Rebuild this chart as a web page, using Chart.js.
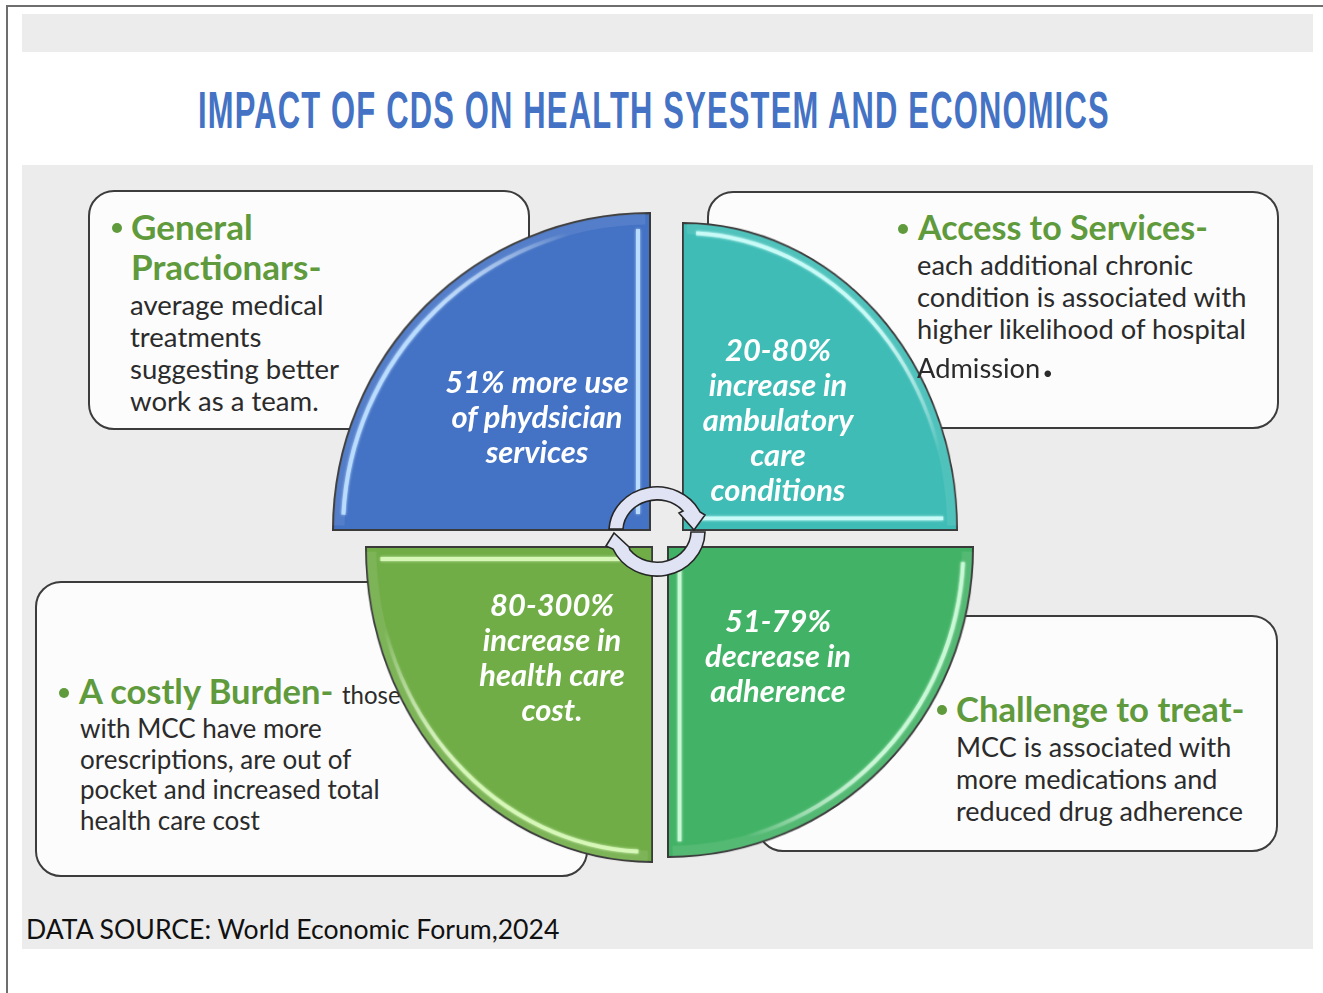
<!DOCTYPE html>
<html>
<head>
<meta charset="utf-8">
<title>Impact of CDS on health system and economics</title>
<script src="https://cdn.jsdelivr.net/npm/chart.js@4"></script>
<style>
  html, body { margin: 0; background: #fff; }
  #page { position: relative; width: 1323px; height: 993px; overflow: hidden; font-family: Lato, sans-serif; }
  #page div, #page canvas, #page svg { position: absolute; }
  .frame-top { left: 6px; top: 5px; width: 1317px; height: 2px; background: #6e6e6e; }
  .frame-left { left: 6px; top: 5px; width: 2px; height: 988px; background: #6e6e6e; }
  .band { left: 22px; width: 1291px; background: #ececec; }
  .box { background: #fcfcfc; border: 2px solid #3c3c3c; border-radius: 26px; box-sizing: border-box; }
  .line { white-space: nowrap; line-height: 1; }
  .head { font-weight: 700; color: #5f9a3c; }
  .body { color: #2b2b2b; }
  .inner { font-weight: 700; font-style: italic; color: #fff; }
</style>
</head>
<body>
<div id="page">
  <div class="frame-top"></div>
  <div class="frame-left"></div>
  <div class="band" style="top:14px;height:38px"></div>
  <div class="band" style="top:165px;height:784px"></div>
  <div class="box" style="left:88px;top:190px;width:442px;height:240px"></div>
  <div class="box" style="left:707px;top:191px;width:572px;height:238px"></div>
  <div class="box" style="left:35px;top:581px;width:553px;height:296px"></div>
  <div class="box" style="left:757px;top:615px;width:521px;height:237px"></div>
  <div id="under"></div>
  <div id="slices"></div>
  <div id="over"></div>
  <svg width="1323" height="993" style="left:0;top:0">
    <!-- circular arrows in the middle of the four slices -->
    <g fill="#dfe3f3" stroke="#262626" stroke-width="1.6" stroke-linejoin="miter">
      <path d="M609 529 A48 45 0 0 1 700 512 L705 515 L694 530 L679 513 L683 511 A34 31 0 0 0 623 529 Z"/>
      <path d="M705 532 A48 45 0 0 1 613 549 L606 546 L614 533 L629 547 L630 550 A34 31 0 0 0 691 532 Z"/>
    </g>
  </svg>
</div>
<script>
// Slices, clockwise from the top left
const sliceNames = ['Physician services', 'Ambulatory care', 'Adherence', 'Health care cost'];
const sliceShares = [25, 25, 25, 25];
const sliceRotations = [270, 0, 90, 180];
const sliceColors = ['#4472c4', '#3fbcb6', '#42b366', '#70ad47'];
const sliceGlow = ['#b9dcff', '#c8fbf7', '#c9f8d6', '#d6f7b8'];

const titleText = 'IMPACT OF CDS ON HEALTH SYESTEM AND ECONOMICS';
const sourceText = 'DATA SOURCE: World Economic Forum,2024';

const physicianLabel = ['51% more use', 'of phydsician', 'services'];
const ambulatoryLabel = ['20-80%', 'increase in', 'ambulatory', 'care', 'conditions'];
const adherenceLabel = ['51-79%', 'decrease in', 'adherence'];
const costLabel = ['80-300%', 'increase in', 'health care', 'cost.'];

const practitionerHead = ['General', 'Practionars-'];
const practitionerBody = ['average medical', 'treatments', 'suggesting better', 'work as a team.'];
const accessHead = ['Access to Services-'];
const accessBody = ['each additional chronic', 'condition is associated with', 'higher likelihood of hospital'];
const burdenHead = ['A costly Burden-'];
const burdenBody = ['with MCC have more', 'orescriptions, are out of', 'pocket and increased total', 'health care cost'];
const challengeHead = ['Challenge to treat-'];
const challengeBody = ['MCC is associated with', 'more medications and', 'reduced drug adherence'];

const BASE_SIZE = 318;

// left, top, width, height of each slice on the page
const sliceBoxes = [
  [332, 212, 319, 319],
  [682, 222, 276, 309],
  [667, 546, 307, 312],
  [365, 546, 288, 317],
];

// Light inner edge on the curve and on one straight side
const bevelPlugin = {
  id: 'bevel',
  afterDatasetsDraw(chart, args, opts) {
    const arc = chart.getDatasetMeta(0).data[0];
    const { x, y, outerRadius: r, startAngle: a0, endAngle: a1 } = arc.getProps(['x', 'y', 'outerRadius', 'startAngle', 'endAngle'], true);
    const ctx = chart.ctx;
    ctx.save();

    // soft rim just inside the outline
    ctx.strokeStyle = 'rgba(255,255,255,0.09)';
    ctx.lineWidth = 11;
    ctx.beginPath();
    ctx.arc(x, y, r - 6, a0 + 0.015, a1 - 0.015);
    ctx.stroke();

    // curve highlight, strongest at the start of the arc
    const rh = r - 10;
    const grad = ctx.createLinearGradient(
      x + rh * Math.cos(a0), y + rh * Math.sin(a0),
      x + rh * Math.cos(a1), y + rh * Math.sin(a1)
    );
    grad.addColorStop(0, opts.color);
    grad.addColorStop(0.45, opts.color);
    grad.addColorStop(0.85, 'rgba(255,255,255,0)');
    ctx.shadowColor = opts.color;
    ctx.shadowBlur = 3;
    ctx.strokeStyle = grad;
    ctx.lineWidth = 4;
    ctx.beginPath();
    ctx.arc(x, y, rh, a0 + 0.05, a1 - 0.03);
    ctx.stroke();

    // straight highlight, just inside the side at the arc's end angle
    const inset = 12;
    const nx = Math.cos(a1 - Math.PI / 2) * inset;
    const ny = Math.sin(a1 - Math.PI / 2) * inset;
    ctx.strokeStyle = opts.color;
    ctx.lineWidth = 4;
    ctx.beginPath();
    ctx.moveTo(x + nx + 16 * Math.cos(a1), y + ny + 16 * Math.sin(a1));
    ctx.lineTo(x + nx + (r - 16) * Math.cos(a1), y + ny + (r - 16) * Math.sin(a1));
    ctx.stroke();
    ctx.restore();
  }
};

// One pie per slice, each stretched to its own box
function createSlice(index) {
  const [left, top, width, height] = sliceBoxes[index];
  const holder = document.createElement('div');
  holder.style.cssText = `left:${left}px;top:${top}px;width:${BASE_SIZE}px;height:${BASE_SIZE}px;` +
    `transform-origin:0 0;transform:scale(${width / BASE_SIZE},${height / BASE_SIZE})`;
  const ctx = document.createElement('canvas');
  ctx.width = BASE_SIZE;
  ctx.height = BASE_SIZE;
  holder.appendChild(ctx);
  document.getElementById('slices').appendChild(holder);

  new Chart(ctx, {
    type: 'pie',
    data: {
      labels: [sliceNames[index]],
      datasets: [{
        data: [sliceShares[index]],
        backgroundColor: sliceColors[index],
        borderColor: '#3a3a3a',
        borderWidth: 2,
        borderJoinStyle: 'miter',
      }]
    },
    options: {
      responsive: false,
      animation: false,
      events: [],
      rotation: sliceRotations[index],
      circumference: sliceShares[index] * 3.6,
      plugins: {
        legend: { display: false },
        tooltip: { enabled: false },
        bevel: { color: sliceGlow[index] }
      }
    },
    plugins: [bevelPlugin]
  });
}

// Put one line of text on the page, centred vertically on y
function addLine(layer, text, cls, x, y, size, stretch, centre) {
  const el = document.createElement('div');
  el.className = 'line ' + cls;
  el.textContent = text;
  el.style.left = x + 'px';
  el.style.top = y + 'px';
  el.style.fontSize = size + 'px';
  el.style.transformOrigin = centre ? '50% 50%' : '0 50%';
  el.style.transform = `translate(${centre ? '-50%' : '0'},-50%) scaleX(${stretch})`;
  document.getElementById(layer).appendChild(el);
  return el;
}

function addBlock(layer, lines, cls, x, y, step, size, stretch, centre) {
  lines.forEach((text, i) => addLine(layer, text, cls, x, y + i * step, size, stretch, centre));
}

function addBullet(x, y) {
  const dot = document.createElement('div');
  dot.style.cssText = `left:${x - 5}px;top:${y - 5}px;width:10px;height:10px;border-radius:50%;background:#5f9a3c`;
  document.getElementById('under').appendChild(dot);
}

sliceBoxes.forEach((_, i) => createSlice(i));

// Title stretched to its full run across the page
const title = addLine('under', titleText, '', 198, 110, 52, 1, false);
title.style.color = '#4472c4';
title.style.fontFamily = '"Liberation Sans Narrow", "Liberation Sans", sans-serif';
title.style.fontWeight = '700';
title.style.letterSpacing = '2px';
title.style.transform = `translate(0,-50%) scaleX(${912 / title.offsetWidth})`;

// Text boxes behind the slices
addBullet(117, 228);
addBlock('under', practitionerHead, 'head', 131, 227, 40, 34, 1.03, false);
addBlock('under', practitionerBody, 'body', 130, 304, 32, 27, 1.02, false);

addBullet(903, 229);
addBlock('under', accessHead, 'head', 918, 227, 40, 34, 1.0, false);
addBlock('under', accessBody, 'body', 917, 264, 32, 27, 1.01, false);

addBullet(64, 693);
addBlock('under', burdenHead, 'head', 79, 691, 40, 34, 1.015, false);
addLine('under', 'those', 'body', 342, 694, 25, 0.96, false);
addBlock('under', burdenBody, 'body', 80, 728, 30.7, 26, 1.0, false);

addBullet(942, 710);
addBlock('under', challengeHead, 'head', 956, 709, 40, 34, 1.02, false);
addBlock('under', challengeBody, 'body', 956, 746, 32, 27, 1.0, false);

addLine('under', sourceText, 'body', 26, 928, 27, 0.985, false).style.color = '#111';

// The last line of the access box runs over the slice edge
addLine('over', 'Admission', 'body', 917, 367, 27, 1.01, false);
addLine('over', '.', 'body', 1043, 362, 40, 1, false).style.fontWeight = '900';

// Labels inside the slices
addBlock('over', physicianLabel, 'inner', 537, 381, 35, 30, 1.03, true);
addBlock('over', ambulatoryLabel, 'inner', 778, 349, 35, 30, 1.03, true);
addBlock('over', adherenceLabel, 'inner', 778, 620, 35, 30, 1.03, true);
addBlock('over', costLabel, 'inner', 552, 604, 35, 30, 1.03, true);
</script>
</body>
</html>
